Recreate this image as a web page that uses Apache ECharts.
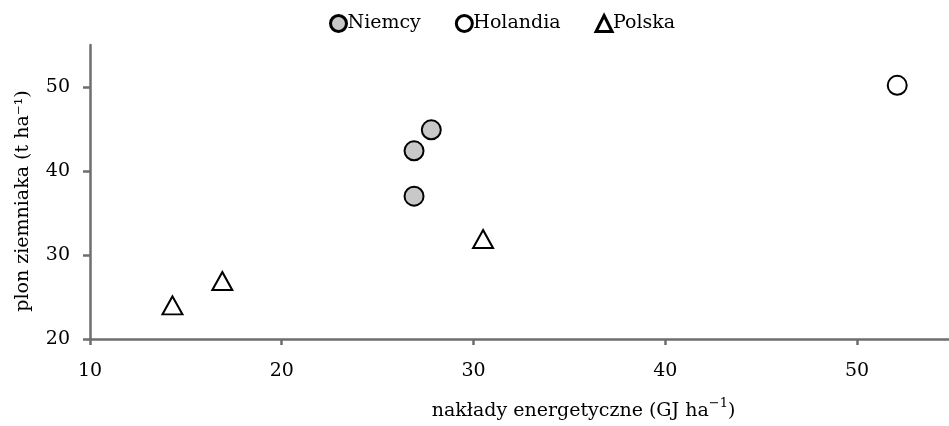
<!DOCTYPE html>
<html>
<head>
<meta charset="utf-8">
<script src="https://cdn.jsdelivr.net/npm/echarts@6/dist/echarts.min.js"></script>
<style>html,body{margin:0;padding:0;background:#fff}#c{width:949px;height:426px}</style>
</head>
<body>
<div id="c"></div>
<script>
const seriesNames = ['Niemcy', 'Holandia', 'Polska'];
const niemcy = [[27.8, 44.9], [26.9, 42.4], [26.9, 37.0]];
const holandia = [[52.1, 50.2]];
const polska = [[14.3, 24.0], [16.9, 26.9], [30.5, 31.9]];
const xTicks = [10, 20, 30, 40, 50];
const yTicks = [20, 30, 40, 50];

const FONT = 'DejaVu Serif';
const TXT = '#000';
const AX = '#6e6e6e';
const FS = 19;
const chart = echarts.init(document.getElementById('c'));
chart.setOption({
  animation: false,
  textStyle: { fontFamily: FONT, color: TXT },
  legend: {
    top: 9, left: 324, itemGap: 34, itemWidth: 16, itemHeight: 16,
    textStyle: { fontFamily: FONT, fontSize: FS, color: TXT, padding: [0, 0, 0, -4] },
    itemStyle: { borderWidth: 3, borderColor: '#000', opacity: 1 },
    data: seriesNames
  },
  grid: { left: 90, right: 0, top: 45, bottom: 86 },
  xAxis: {
    type: 'value', min: 10, max: 54.8, interval: 10,
    splitLine: { show: false },
    axisLine: { lineStyle: { color: AX, width: 2.5 } },
    axisTick: { show: true, length: 6, lineStyle: { color: AX, width: 2.5 }, customValues: xTicks },
    axisLabel: { color: TXT, fontFamily: FONT, fontSize: FS, margin: 23, customValues: xTicks },
    name: '{n|nakłady energetyczne (GJ ha}{s|−1}{n|)}',
    nameLocation: 'middle', nameGap: 58,
    nameTextStyle: {
      padding: [0, 0, 0, 128],
      rich: {
        n: { fontFamily: FONT, fontSize: FS, color: TXT, verticalAlign: 'bottom', lineHeight: 24 },
        s: { fontFamily: FONT, fontSize: 13, color: TXT, verticalAlign: 'top', lineHeight: 24 }
      }
    }
  },
  yAxis: {
    type: 'value', min: 20, max: 55, interval: 10,
    splitLine: { show: false },
    axisLine: { lineStyle: { color: AX, width: 2.5 } },
    axisTick: { show: true, length: 7, lineStyle: { color: AX, width: 2.5 }, customValues: yTicks },
    axisLabel: { color: TXT, fontFamily: FONT, fontSize: FS, margin: 20, customValues: yTicks },
    name: 'plon ziemniaka (t ha⁻¹)',
    nameLocation: 'middle', nameGap: 57,
    nameTextStyle: { fontFamily: FONT, fontSize: FS, color: TXT, padding: [0, 18, 0, 0] }
  },
  series: [
    { type: 'scatter', name: seriesNames[0], data: niemcy, symbol: 'circle', symbolSize: 19,
      itemStyle: { color: '#c8c8c8', borderColor: '#000', borderWidth: 2, opacity: 1 } },
    { type: 'scatter', name: seriesNames[1], data: holandia, symbol: 'circle', symbolSize: 19,
      itemStyle: { color: '#fff', borderColor: '#000', borderWidth: 2, opacity: 1 } },
    { type: 'scatter', name: seriesNames[2], data: polska, symbol: 'triangle', symbolSize: [20, 18],
      itemStyle: { color: '#fff', borderColor: '#000', borderWidth: 2, opacity: 1 } }
  ]
});
</script>
</body>
</html>
